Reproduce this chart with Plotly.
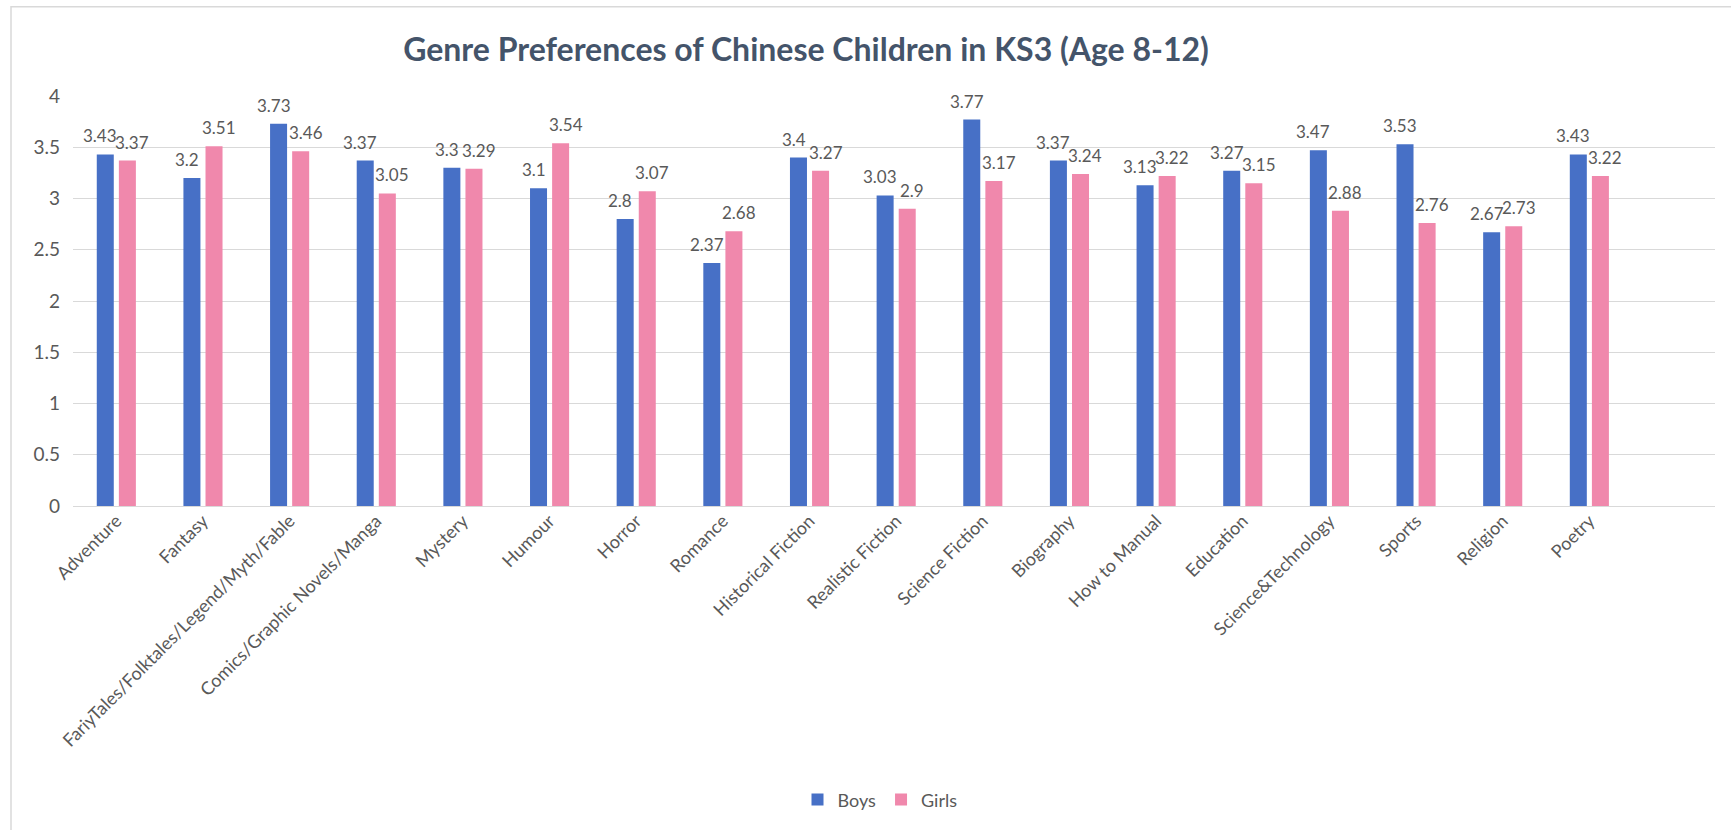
import plotly.graph_objects as go

categories = [
    "Adventure", "Fantasy", "FariyTales/Folktales/Legend/Myth/Fable",
    "Comics/Graphic Novels/Manga", "Mystery", "Humour", "Horror", "Romance",
    "Historical Fiction", "Realistic Fiction", "Science Fiction", "Biography",
    "How to Manual", "Education", "Science&Technology", "Sports", "Religion", "Poetry",
]
boys = [3.43, 3.2, 3.73, 3.37, 3.3, 3.1, 2.8, 2.37, 3.4, 3.03, 3.77, 3.37, 3.13, 3.27, 3.47, 3.53, 2.67, 3.43]
girls = [3.37, 3.51, 3.46, 3.05, 3.29, 3.54, 3.07, 2.68, 3.27, 2.9, 3.17, 3.24, 3.22, 3.15, 2.88, 2.76, 2.73, 3.22]
y_ticks = [0, 0.5, 1, 1.5, 2, 2.5, 3, 3.5, 4]
title = "Genre Preferences of Chinese Children in KS3 (Age 8-12)"

FONT = "Lato"
TXT = "#595959"
BOY_C = "#4770C6"
GIRL_C = "#F088AC"

fig = go.Figure()
fig.add_trace(go.Bar(name="Boys", x=categories, y=boys, marker=dict(color=BOY_C, line=dict(width=0))))
fig.add_trace(go.Bar(name="Girls", x=categories, y=girls, marker=dict(color=GIRL_C, line=dict(width=0))))

annotations = []
for cat, b, g in zip(categories, boys, girls):
    annotations.append(dict(x=cat, y=b, text=f"{b:g}", showarrow=False, xref="x", yref="y",
                            xanchor="center", yanchor="bottom", xshift=-16, yshift=6,
                            font=dict(family=FONT, size=17, color=TXT)))
    annotations.append(dict(x=cat, y=g, text=f"{g:g}", showarrow=False, xref="x", yref="y",
                            xanchor="center", yanchor="bottom", xshift=16, yshift=6,
                            font=dict(family=FONT, size=17, color=TXT)))

L, R, T, B = 73, 16, 96, 321
W, H = 1731, 830
pw = W - L - R
ph = H - T - B

fig.update_layout(
    width=W, height=H,
    margin=dict(l=L, r=R, t=T, b=B, pad=0),
    paper_bgcolor="white", plot_bgcolor="white",
    title=dict(text=f"<b>{title}</b>", x=806 / W, xref="container", xanchor="center",
               y=1 - 50 / H, yref="container", yanchor="middle",
               font=dict(family=FONT, size=32, color="#44546A")),
    barmode="group", bargap=0.49, bargroupgap=0.23,
    showlegend=True,
    legend=dict(orientation="h", x=(880 - L) / pw, xanchor="center",
                y=(H - B - 805) / ph, yanchor="middle",
                font=dict(family=FONT, size=18, color=TXT), itemwidth=30,
                traceorder="normal"),
    annotations=annotations,
    xaxis=dict(type="category", range=[-0.5, 18.45], tickangle=-45, showgrid=False,
               showline=False, zeroline=False, ticks="",
               tickfont=dict(family=FONT, size=18, color=TXT)),
    yaxis=dict(range=[0, 4], tickvals=y_ticks, ticktext=[f"{v:g}" for v in y_ticks],
               showgrid=True, gridcolor="#D9D9D9", gridwidth=1, zeroline=True,
               zerolinecolor="#D9D9D9", zerolinewidth=1, showline=False, ticks="",
               ticklabelstandoff=12,
               tickfont=dict(family=FONT, size=19, color=TXT)),
    shapes=[dict(type="rect", xref="paper", yref="paper",
                 x0=(11 - L) / pw, x1=(W + 20 - L) / pw,
                 y0=(H - B - (H + 20)) / ph, y1=(H - B - 6) / ph,
                 line=dict(color="#D9D9D9", width=1.5), fillcolor="rgba(0,0,0,0)", layer="below")],
)

fig.write_html("out.html")
